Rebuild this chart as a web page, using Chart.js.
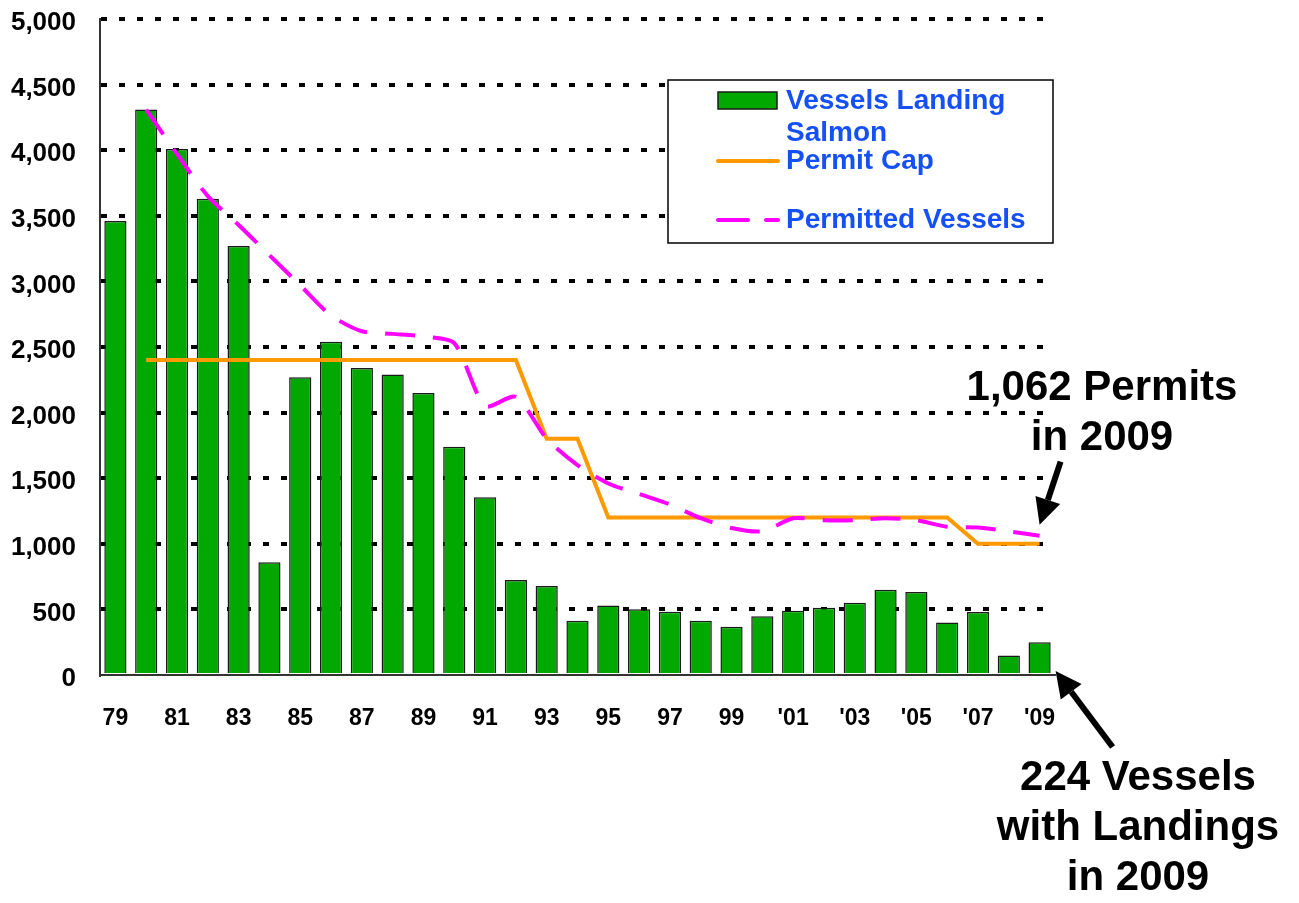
<!DOCTYPE html>
<html>
<head>
<meta charset="utf-8">
<script src="https://cdn.jsdelivr.net/npm/chart.js@4.4.1/dist/chart.umd.min.js"></script>
<style>
  html, body { margin: 0; padding: 0; background: #fff; }
  #wrap { width: 1299px; height: 903px; }
</style>
</head>
<body>
<div id="wrap"><canvas id="chart" width="1299" height="903"></canvas></div>
<script>
/* ---------- data ---------- */
const years = ['79', '80', '81', '82', '83', '84', '85', '86', '87', '88', '89',
  '90', '91', '92', '93', '94', '95', '96', '97', '98', '99',
  "'00", "'01", "'02", "'03", "'04", "'05", "'06", "'07", "'08", "'09"];

const vesselsLanding = [3460, 4310, 4010, 3630, 3270, 860, 2270, 2540, 2340, 2290, 2150,
  1740, 1355, 725, 678, 414, 530, 502, 482, 414, 368,
  447, 490, 513, 551, 650, 632, 401, 480, 148, 250];

const permitCap = [null, 2400, 2400, 2400, 2400, 2400, 2400, 2400, 2400, 2400, 2400,
  2400, 2400, 2400, 1800, 1800, 1200, 1200, 1200, 1200, 1200,
  1200, 1200, 1200, 1200, 1200, 1200, 1200, 1000, 1000, 1000];

const permittedVessels = [null, 4310, 3970, 3650, 3430, 3200, 2970, 2740, 2620, 2600, 2580,
  2530, 2050, 2120, 1800, 1600, 1460, 1380, 1300, 1195, 1120,
  1095, 1195, 1180, 1180, 1195, 1180, 1130, 1125, 1095, 1062];

const yMax = 5000;
const yStep = 500;

const notes = [
  { lines: ['1,062 Permits', 'in 2009'] },
  { lines: ['224 Vessels', 'with Landings', 'in 2009'] }
];

/* ---------- look ---------- */
const FONT = "'Liberation Sans', Arial, Helvetica, sans-serif";
const GREEN = '#00A800';
const ORANGE = '#FF9900';
const MAGENTA = '#FF00FF';
const LEGEND_BLUE = '#1450F5';

/* Legend box drawn by hand so it can sit inside the plot like the original */
const boxLegend = {
  id: 'boxLegend',
  afterDraw(chart) {
    const ctx = chart.ctx;
    const bx = 668, by = 80, bw = 385, bh = 163;
    ctx.save();
    ctx.fillStyle = '#fff';
    ctx.fillRect(bx, by, bw, bh);
    ctx.lineWidth = 1.5;
    ctx.strokeStyle = '#000';
    ctx.strokeRect(bx, by, bw, bh);

    const rows = [101, 161, 220];
    const sx = 718, sw = 59, tx = 786;
    ctx.font = `bold 28px ${FONT}`;
    ctx.textBaseline = 'middle';
    ctx.textAlign = 'left';

    // legend order: bars, cap, permitted
    const order = [2, 1, 0];
    order.forEach((di, r) => {
      const ds = chart.data.datasets[di];
      const y = rows[r];
      if (ds.type === 'bar') {
        ctx.fillStyle = ds.backgroundColor;
        ctx.fillRect(sx, y - 9, sw, 17);
        ctx.lineWidth = 1.5;
        ctx.strokeStyle = ds.borderColor;
        ctx.strokeRect(sx, y - 9, sw, 17);
      } else {
        ctx.beginPath();
        ctx.lineWidth = ds.borderWidth;
        ctx.strokeStyle = ds.borderColor;
        ctx.setLineDash(ds.borderDash || []);
        ctx.lineCap = 'round';
        ctx.moveTo(sx, y);
        ctx.lineTo(sx + sw + 1, y);
        ctx.stroke();
        ctx.setLineDash([]);
      }
      // wrap label to the box
      ctx.fillStyle = LEGEND_BLUE;
      const words = ds.label.split(' ');
      let line = '', ly = y;
      words.forEach(w => {
        const test = line ? line + ' ' + w : w;
        if (ctx.measureText(test).width > 255 && line) {
          ctx.fillText(line, tx, ly);
          line = w;
          ly += 32;
        } else line = test;
      });
      ctx.fillText(line, tx, ly);
    });
    ctx.restore();
  }
};

function arrow(ctx, x0, y0, x1, y1) {
  const ang = Math.atan2(y1 - y0, x1 - x0);
  const hl = 26, hw = 13;
  const bxp = x1 - hl * Math.cos(ang), byp = y1 - hl * Math.sin(ang);
  ctx.beginPath();
  ctx.lineWidth = 6;
  ctx.strokeStyle = '#000';
  ctx.moveTo(x0, y0);
  ctx.lineTo(bxp, byp);
  ctx.stroke();
  ctx.beginPath();
  ctx.fillStyle = '#000';
  ctx.moveTo(x1, y1);
  ctx.lineTo(bxp + hw * Math.sin(ang), byp - hw * Math.cos(ang));
  ctx.lineTo(bxp - hw * Math.sin(ang), byp + hw * Math.cos(ang));
  ctx.closePath();
  ctx.fill();
}

/* Call-outs with arrows pointing at the 2009 values */
const callouts = {
  id: 'callouts',
  afterDraw(chart) {
    const { ctx, scales: { x, y } } = chart;
    const last = years.length - 1;
    const px = x.getPixelForValue(last);
    ctx.save();
    ctx.fillStyle = '#000';
    ctx.font = `bold 42px ${FONT}`;
    ctx.textAlign = 'center';
    ctx.textBaseline = 'middle';

    notes[0].lines.forEach((t, i) => ctx.fillText(t, 1102, 388 + i * 50));
    const py = y.getPixelForValue(permittedVessels[last]);
    arrow(ctx, px + 21, py - 74, px, py - 11);

    notes[1].lines.forEach((t, i) => ctx.fillText(t, 1138, 778 + i * 50));
    const base = y.getPixelForValue(0);
    arrow(ctx, px + 73, base + 72, px + 16, base - 4);
    ctx.restore();
  }
};

new Chart(document.getElementById('chart'), {
  type: 'bar',
  data: {
    labels: years,
    datasets: [
      {
        type: 'line',
        label: 'Permitted Vessels',
        data: permittedVessels,
        borderColor: MAGENTA,
        borderWidth: 4,
        borderDash: [30, 18],
        pointRadius: 0,
        tension: 0.25,
        order: 1
      },
      {
        type: 'line',
        label: 'Permit Cap',
        data: permitCap,
        borderColor: ORANGE,
        borderWidth: 4,
        pointRadius: 0,
        tension: 0,
        order: 2
      },
      {
        type: 'bar',
        label: 'Vessels Landing Salmon',
        data: vesselsLanding,
        backgroundColor: GREEN,
        borderColor: '#1a1a1a',
        borderWidth: 1.5,
        barPercentage: 0.72,
        categoryPercentage: 1,
        order: 3
      }
    ]
  },
  options: {
    responsive: false,
    animation: false,
    layout: { padding: { top: 19, right: 244, left: 0, bottom: 0 } },
    plugins: { legend: { display: false }, tooltip: { enabled: false } },
    scales: {
      x: {
        offset: true,
        grid: { display: false, drawTicks: false },
        border: { display: true, color: '#333', width: 2 },
        ticks: {
          autoSkip: false,
          maxRotation: 0,
          padding: 30,
          color: '#000',
          font: { family: FONT, size: 23, weight: 'bold' },
          callback: (v, i) => (i % 2 === 0 ? years[i] : '')
        },
        afterFit: s => { s.height = 228; s.paddingLeft = 0; s.paddingRight = 0; }
      },
      y: {
        min: 0,
        max: yMax,
        ticks: {
          stepSize: yStep,
          padding: 24,
          labelOffset: 4,
          color: '#000',
          font: { family: FONT, size: 26, weight: 'bold' },
          callback: v => v.toLocaleString('en-US')
        },
        grid: {
          drawTicks: false,
          lineWidth: 4,
          color: c => (c.tick && c.tick.value === 0 ? 'rgba(0,0,0,0)' : '#000')
        },
        border: { display: true, color: '#333', width: 2, dash: [6, 12] },
        afterFit: s => { s.width = 100; s.paddingTop = 0; s.paddingBottom = 0; }
      }
    }
  },
  plugins: [boxLegend, callouts]
});
</script>
</body>
</html>
